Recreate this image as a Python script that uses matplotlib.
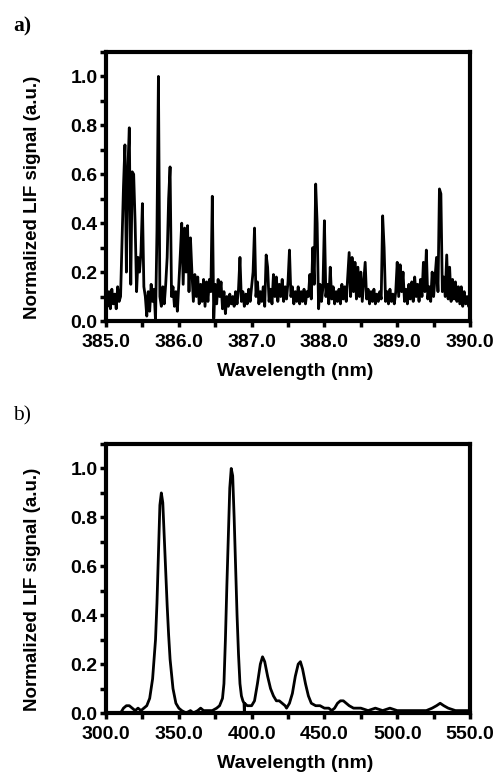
import matplotlib
matplotlib.use('Agg')
import matplotlib.pyplot as plt
from matplotlib.ticker import MultipleLocator, FormatStrFormatter

# --- panel a: high resolution LIF spectrum 385-390 nm (step 0.02 nm) ---
wl_a_start = 385.0
wl_a_step = 0.02
sig_a = [
    0.14, 0.06, 0.12, 0.05, 0.13, 0.07, 0.11, 0.05, 0.14, 0.08,
    0.10, 0.32, 0.55, 0.72, 0.20, 0.62, 0.79, 0.15, 0.61, 0.60,
    0.40, 0.12, 0.26, 0.20, 0.28, 0.48, 0.14, 0.10, 0.02, 0.12,
    0.04, 0.15, 0.08, 0.13, 0.00, 0.37, 1.00, 0.10, 0.06, 0.14,
    0.07, 0.15, 0.26, 0.50, 0.63, 0.10, 0.14, 0.06, 0.12, 0.04,
    0.15, 0.27, 0.40, 0.15, 0.38, 0.20, 0.39, 0.12, 0.34, 0.20,
    0.08, 0.19, 0.10, 0.18, 0.07, 0.15, 0.08, 0.17, 0.06, 0.16,
    0.08, 0.17, 0.12, 0.51, 0.01, 0.15, 0.07, 0.17, 0.10, 0.16,
    0.05, 0.12, 0.03, 0.10, 0.06, 0.11, 0.07, 0.10, 0.06, 0.12,
    0.07, 0.13, 0.26, 0.08, 0.12, 0.06, 0.11, 0.07, 0.13, 0.08,
    0.14, 0.20, 0.38, 0.10, 0.16, 0.07, 0.12, 0.08, 0.14, 0.06,
    0.27, 0.22, 0.08, 0.13, 0.07, 0.19, 0.10, 0.18, 0.08, 0.15,
    0.10, 0.17, 0.08, 0.14, 0.09, 0.16, 0.29, 0.10, 0.14, 0.07,
    0.12, 0.08, 0.14, 0.07, 0.12, 0.08, 0.13, 0.07, 0.12, 0.10,
    0.19, 0.09, 0.30, 0.15, 0.56, 0.40, 0.05, 0.15, 0.08, 0.14,
    0.41, 0.10, 0.15, 0.07, 0.22, 0.09, 0.14, 0.07, 0.12, 0.08,
    0.13, 0.07, 0.15, 0.09, 0.14, 0.08, 0.18, 0.28, 0.10, 0.26,
    0.12, 0.24, 0.09, 0.22, 0.10, 0.20, 0.08, 0.16, 0.24, 0.09,
    0.13, 0.07, 0.12, 0.08, 0.13, 0.07, 0.11, 0.08, 0.12, 0.09,
    0.43, 0.30, 0.08, 0.12, 0.07, 0.13, 0.08, 0.11, 0.07, 0.12,
    0.24, 0.10, 0.23, 0.12, 0.20, 0.08, 0.13, 0.07, 0.15, 0.09,
    0.16, 0.08, 0.18, 0.10, 0.15, 0.08, 0.17, 0.10, 0.24, 0.12,
    0.29, 0.09, 0.14, 0.08, 0.20, 0.10, 0.18, 0.26, 0.12, 0.54,
    0.52, 0.12, 0.18, 0.10, 0.27, 0.09, 0.22, 0.08, 0.17, 0.09,
    0.16, 0.08, 0.14, 0.07, 0.14, 0.06, 0.12, 0.07, 0.10, 0.06,
    0.08,
]
wl_a = [wl_a_start + i * wl_a_step for i in range(len(sig_a))]

# --- panel b: broad LIF spectrum 300-550 nm ---
wl_b = [310, 312, 314, 316, 318, 320, 322, 324, 326, 328,
        330, 332, 334, 335, 336, 337, 338, 339, 340, 341,
        342, 343, 344, 346, 348, 350, 352, 355, 358, 360,
        363, 365, 367, 370, 373, 376, 378, 380, 381, 382,
        383, 384, 385, 386, 387, 388, 389, 390, 391, 392,
        393, 394, 394.8, 395.0, 395.2, 397, 400, 402, 404, 406,
        407.5, 409, 411, 413, 415, 417, 419, 421, 423, 424,
        426, 428, 430, 432, 433.5, 435, 437, 439, 441, 444,
        447, 450, 453, 455, 457, 459, 461, 463, 465, 467,
        470, 475, 480, 485, 490, 495, 500, 505, 510, 515,
        520, 524, 527, 529.5, 532, 535, 540, 545, 550]
sig_b = [0.00, 0.02, 0.03, 0.03, 0.02, 0.01, 0.02, 0.01, 0.02, 0.03,
         0.06, 0.14, 0.30, 0.45, 0.65, 0.85, 0.90, 0.86, 0.72, 0.58,
         0.44, 0.32, 0.22, 0.10, 0.04, 0.02, 0.01, 0.00, 0.01, 0.00,
         0.01, 0.02, 0.01, 0.01, 0.01, 0.02, 0.03, 0.06, 0.12, 0.30,
         0.52, 0.72, 0.92, 1.00, 0.97, 0.80, 0.60, 0.40, 0.24, 0.12,
         0.07, 0.05, 0.04, 0.00, 0.04, 0.03, 0.03, 0.05, 0.12, 0.20,
         0.23, 0.21, 0.15, 0.10, 0.07, 0.05, 0.05, 0.04, 0.03, 0.02,
         0.04, 0.08, 0.15, 0.20, 0.21, 0.18, 0.12, 0.07, 0.04, 0.03,
         0.03, 0.02, 0.02, 0.01, 0.02, 0.04, 0.05, 0.05, 0.04, 0.03,
         0.02, 0.02, 0.01, 0.02, 0.01, 0.02, 0.01, 0.01, 0.01, 0.01,
         0.01, 0.02, 0.03, 0.04, 0.03, 0.02, 0.01, 0.01, 0.01]

y_label = 'Normalized LIF signal (a.u.)'
x_label = 'Wavelength (nm)'

plt.rcParams['font.family'] = ['Liberation Sans', 'DejaVu Sans']
plt.rcParams['font.weight'] = 'bold'

fig = plt.figure(figsize=(4.97, 7.78), dpi=100)
ax_a = fig.add_axes([0.2133, 0.5874, 0.7324, 0.3458])
ax_b = fig.add_axes([0.2133, 0.0835, 0.7324, 0.3458])


def style_axis(ax, xmin, xmax, xmajor, xminor):
    ax.set_xlim(xmin, xmax)
    ax.set_ylim(0, 1.1)
    ax.xaxis.set_major_locator(MultipleLocator(xmajor))
    ax.xaxis.set_minor_locator(MultipleLocator(xminor))
    ax.yaxis.set_major_locator(MultipleLocator(0.2))
    ax.yaxis.set_minor_locator(MultipleLocator(0.1))
    ax.xaxis.set_major_formatter(FormatStrFormatter('%.1f'))
    ax.yaxis.set_major_formatter(FormatStrFormatter('%.1f'))
    for sp in ax.spines.values():
        sp.set_linewidth(3)
    ax.tick_params(which='both', direction='out', length=4, width=2.5,
                   labelsize=14, top=False, right=False)
    ax.tick_params(axis='x', pad=5)
    ax.tick_params(axis='y', pad=2)
    ax.set_xlabel(x_label, fontsize=14, fontweight='bold')
    ax.set_ylabel(y_label, fontsize=13.5, fontweight='bold')
    ax.xaxis.set_label_coords(0.52, -0.156)
    ax.yaxis.set_label_coords(-0.178, 0.46)


ax_a.plot(wl_a, sig_a, color='black', linewidth=2.0)
style_axis(ax_a, 385.0, 390.0, 1.0, 0.5)

ax_b.plot(wl_b, sig_b, color='black', linewidth=2.0)
style_axis(ax_b, 300.0, 550.0, 50.0, 25.0)

fig.text(0.026, 0.960, 'a)', fontsize=15.5, fontweight='bold',
         family=['Liberation Serif', 'DejaVu Serif'])
fig.text(0.026, 0.460, 'b)', fontsize=15.5, fontweight='normal',
         family=['Liberation Serif', 'DejaVu Serif'])

fig.savefig('out.png', dpi=100)
